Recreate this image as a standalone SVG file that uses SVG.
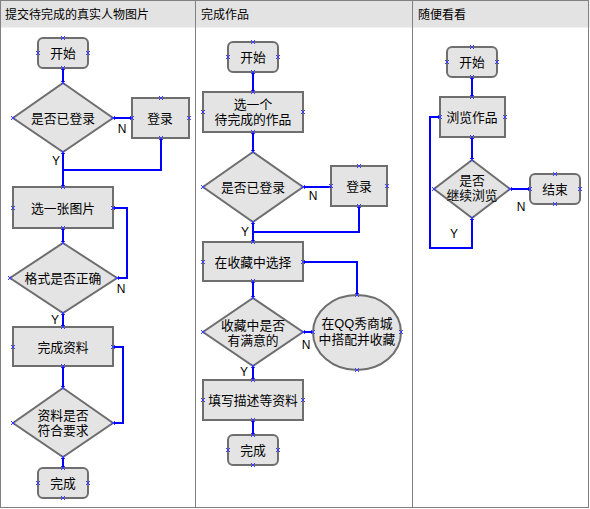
<svg xmlns="http://www.w3.org/2000/svg" xmlns:xlink="http://www.w3.org/1999/xlink" width="590" height="509" viewBox="0 0 590 509">
<style>
.n{fill:#e4e4e4;stroke:#6e6e6e;stroke-width:2}
.t{font-family:"Liberation Sans","Noto Sans CJK SC",sans-serif;font-size:12.8px;fill:#000;text-anchor:middle}
.h{font-family:"Liberation Sans","Noto Sans CJK SC",sans-serif;font-size:12px;fill:#000}
.l{font-family:"Liberation Sans",sans-serif;font-size:12px;fill:#000;text-anchor:middle}
.c{fill:none;stroke:#0000ff;stroke-width:2}
.p{stroke:#3c3cff;stroke-width:1;fill:none}
</style>
<defs>
<path id="x" class="p" d="M-2,-2L2,2M-2,2L2,-2"/>
</defs>
<rect x="0" y="0" width="590" height="509" fill="#ffffff"/>
<rect x="0.5" y="0.5" width="589" height="27" fill="#e3e3e3"/>
<g id="lanes" stroke="#808080" stroke-width="1" fill="none">
<rect x="0.5" y="0.5" width="588" height="507"/>
<line x1="195.5" y1="0" x2="195.5" y2="508"/>
<line x1="412.5" y1="0" x2="412.5" y2="508"/>
</g>
<text class="h" x="5" y="19">提交待完成的真实人物图片</text>
<text class="h" x="201" y="19">完成作品</text>
<text class="h" x="418" y="19">随便看看</text>

<!-- column 1 -->
<g id="c1_start"><rect class="n" x="38" y="38" width="50" height="30" rx="5"/><text class="t" x="63" y="57.5">开始</text></g>
<g id="c1_login_q"><polygon class="n" points="63,83 113,118 63,152 13,118"/><text class="t" x="63" y="122.5">是否已登录</text></g>
<g id="c1_login"><rect class="n" x="132" y="98" width="57" height="40"/><text class="t" x="160" y="122.5">登录</text></g>
<g id="c1_pick"><rect class="n" x="13" y="187" width="100" height="41"/><text class="t" x="63" y="212.5">选一张图片</text></g>
<g id="c1_format_q"><polygon class="n" points="63,243 117,278 63,313 10,278"/><text class="t" x="63" y="282.5">格式是否正确</text></g>
<g id="c1_data"><rect class="n" x="13" y="327" width="100" height="39"/><text class="t" x="63" y="351.5">完成资料</text></g>
<g id="c1_req_q"><polygon class="n" points="63,388 113,423 63,457 13,423"/><text class="t" x="63" y="420"><tspan x="63" y="420">资料是否</tspan><tspan x="63" y="435">符合要求</tspan></text></g>
<g id="c1_end"><rect class="n" x="38" y="468" width="50" height="30" rx="5"/><text class="t" x="63" y="487.5">完成</text></g>

<!-- column 2 -->
<g id="c2_start"><rect class="n" x="228" y="42" width="50" height="30" rx="5"/><text class="t" x="253" y="61.5">开始</text></g>
<g id="c2_pick"><rect class="n" x="203" y="92" width="100" height="40"/><text class="t" x="253" y="109"><tspan x="253" y="109">选一个</tspan><tspan x="253" y="124">待完成的作品</tspan></text></g>
<g id="c2_login_q"><polygon class="n" points="253,152 303,187 253,222 203,187"/><text class="t" x="253" y="191.5">是否已登录</text></g>
<g id="c2_login"><rect class="n" x="331" y="166" width="56" height="40"/><text class="t" x="359" y="190.5">登录</text></g>
<g id="c2_fav"><rect class="n" x="203" y="242" width="100" height="39"/><text class="t" x="253" y="266.5">在收藏中选择</text></g>
<g id="c2_sat_q"><polygon class="n" points="253,298 303,332 253,366 203,332"/><text class="t" x="253" y="330"><tspan x="253" y="330">收藏中是否</tspan><tspan x="253" y="345">有满意的</tspan></text></g>
<g id="c2_qq"><ellipse class="n" cx="357" cy="332.5" rx="44" ry="37.5"/><text class="t" x="357" y="328"><tspan x="357" y="328">在QQ秀商城</tspan><tspan x="357" y="344">中搭配并收藏</tspan></text></g>
<g id="c2_fill"><rect class="n" x="203" y="380" width="100" height="40"/><text class="t" x="253" y="404.5">填写描述等资料</text></g>
<g id="c2_end"><rect class="n" x="228" y="435" width="50" height="30" rx="5"/><text class="t" x="253" y="454.5">完成</text></g>

<!-- column 3 -->
<g id="c3_start"><rect class="n" x="447" y="47" width="50" height="30" rx="5"/><text class="t" x="472" y="66.5">开始</text></g>
<g id="c3_browse"><rect class="n" x="440" y="97" width="65" height="40"/><text class="t" x="472" y="121.5">浏览作品</text></g>
<g id="c3_cont_q"><polygon class="n" points="472,160 510,189 472,218 434,189"/><text class="t" x="472" y="185"><tspan x="472" y="185">是否</tspan><tspan x="472" y="200">继续浏览</tspan></text></g>
<g id="c3_end"><rect class="n" x="530" y="174" width="50" height="30" rx="5"/><text class="t" x="555" y="193.5">结束</text></g>

<g id="connectors">
<path class="c" d="M63,68V83"/>
<path class="c" d="M113,118H132"/>
<path class="c" d="M63,152V187"/>
<path class="c" d="M161,138V170H63"/>
<path class="c" d="M63,228V243"/>
<path class="c" d="M117,278H127V208H113"/>
<path class="c" d="M63,313V327"/>
<path class="c" d="M63,366V388"/>
<path class="c" d="M113,423H123V347H113"/>
<path class="c" d="M63,457V468"/>

<path class="c" d="M253,72V92"/>
<path class="c" d="M253,132V152"/>
<path class="c" d="M303,187H331"/>
<path class="c" d="M253,222V242"/>
<path class="c" d="M359,206V232H253"/>
<path class="c" d="M253,281V298"/>
<path class="c" d="M303,332H313"/>
<path class="c" d="M357,295V262H303"/>
<path class="c" d="M253,366V380"/>
<path class="c" d="M253,420V435"/>

<path class="c" d="M472,77V97"/>
<path class="c" d="M472,137V160"/>
<path class="c" d="M510,189H530"/>
<path class="c" d="M472,218V248H430V117H440"/>
</g>

<g id="labels">
<text class="l" x="122" y="133">N</text>
<text class="l" x="56" y="165">Y</text>
<text class="l" x="121" y="293">N</text>
<text class="l" x="55" y="324">Y</text>
<text class="l" x="313" y="200">N</text>
<text class="l" x="245" y="236">Y</text>
<text class="l" x="306" y="349">N</text>
<text class="l" x="244" y="376">Y</text>
<text class="l" x="521" y="211">N</text>
<text class="l" x="454" y="238">Y</text>
</g>

<g id="ports">
<use xlink:href="#x" x="63" y="38"/><use xlink:href="#x" x="38" y="53"/><use xlink:href="#x" x="88" y="53"/><use xlink:href="#x" x="63" y="68"/>
<use xlink:href="#x" x="63" y="83"/><use xlink:href="#x" x="13" y="118"/><use xlink:href="#x" x="113" y="118"/><use xlink:href="#x" x="63" y="152"/>
<use xlink:href="#x" x="161" y="98"/><use xlink:href="#x" x="132" y="118"/><use xlink:href="#x" x="189" y="118"/><use xlink:href="#x" x="161" y="138"/>
<use xlink:href="#x" x="63" y="187"/><use xlink:href="#x" x="13" y="208"/><use xlink:href="#x" x="113" y="208"/><use xlink:href="#x" x="63" y="228"/>
<use xlink:href="#x" x="63" y="243"/><use xlink:href="#x" x="10" y="278"/><use xlink:href="#x" x="117" y="278"/><use xlink:href="#x" x="63" y="313"/>
<use xlink:href="#x" x="63" y="327"/><use xlink:href="#x" x="13" y="347"/><use xlink:href="#x" x="113" y="347"/><use xlink:href="#x" x="63" y="366"/>
<use xlink:href="#x" x="63" y="388"/><use xlink:href="#x" x="13" y="423"/><use xlink:href="#x" x="113" y="423"/><use xlink:href="#x" x="63" y="457"/>
<use xlink:href="#x" x="63" y="468"/><use xlink:href="#x" x="38" y="483"/><use xlink:href="#x" x="88" y="483"/><use xlink:href="#x" x="63" y="498"/>

<use xlink:href="#x" x="253" y="42"/><use xlink:href="#x" x="228" y="57"/><use xlink:href="#x" x="278" y="57"/><use xlink:href="#x" x="253" y="72"/>
<use xlink:href="#x" x="253" y="92"/><use xlink:href="#x" x="203" y="112"/><use xlink:href="#x" x="303" y="112"/><use xlink:href="#x" x="253" y="132"/>
<use xlink:href="#x" x="253" y="152"/><use xlink:href="#x" x="203" y="187"/><use xlink:href="#x" x="303" y="187"/><use xlink:href="#x" x="253" y="222"/>
<use xlink:href="#x" x="359" y="166"/><use xlink:href="#x" x="331" y="186"/><use xlink:href="#x" x="387" y="186"/><use xlink:href="#x" x="359" y="206"/>
<use xlink:href="#x" x="253" y="242"/><use xlink:href="#x" x="203" y="262"/><use xlink:href="#x" x="303" y="262"/><use xlink:href="#x" x="253" y="281"/>
<use xlink:href="#x" x="253" y="298"/><use xlink:href="#x" x="203" y="332"/><use xlink:href="#x" x="303" y="332"/><use xlink:href="#x" x="253" y="366"/>
<use xlink:href="#x" x="357" y="295"/><use xlink:href="#x" x="313" y="332"/><use xlink:href="#x" x="401" y="332"/><use xlink:href="#x" x="357" y="370"/>
<use xlink:href="#x" x="253" y="380"/><use xlink:href="#x" x="203" y="400"/><use xlink:href="#x" x="303" y="400"/><use xlink:href="#x" x="253" y="420"/>
<use xlink:href="#x" x="253" y="435"/><use xlink:href="#x" x="228" y="450"/><use xlink:href="#x" x="278" y="450"/><use xlink:href="#x" x="253" y="465"/>

<use xlink:href="#x" x="472" y="47"/><use xlink:href="#x" x="447" y="62"/><use xlink:href="#x" x="497" y="62"/><use xlink:href="#x" x="472" y="77"/>
<use xlink:href="#x" x="472" y="97"/><use xlink:href="#x" x="440" y="117"/><use xlink:href="#x" x="505" y="117"/><use xlink:href="#x" x="472" y="137"/>
<use xlink:href="#x" x="472" y="160"/><use xlink:href="#x" x="434" y="189"/><use xlink:href="#x" x="510" y="189"/><use xlink:href="#x" x="472" y="218"/>
<use xlink:href="#x" x="555" y="174"/><use xlink:href="#x" x="530" y="189"/><use xlink:href="#x" x="580" y="189"/><use xlink:href="#x" x="555" y="204"/>
</g>
</svg>
